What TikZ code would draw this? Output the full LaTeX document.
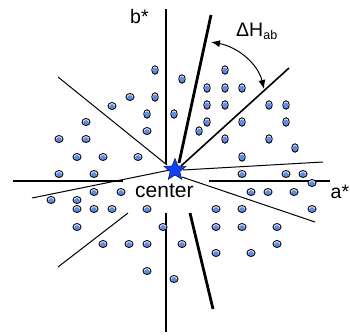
\documentclass[tikz,border=0pt]{standalone}
\usepackage{fontspec}
\setmainfont{Liberation Sans}
\usetikzlibrary{shapes.geometric,arrows.meta}
\definecolor{dotblue}{HTML}{5B8DEF}
\definecolor{starblue}{HTML}{1240F0}
\definecolor{starline}{HTML}{0A1A80}
\tikzset{
 dotw/.style={ellipse, draw=black, line width=0.9pt, fill=white, minimum width=8pt, minimum height=7pt, inner sep=0pt,
   path picture={\fill[dotblue] ([yshift=-0.7pt]path picture bounding box.center) ellipse (2.9pt and 2.6pt);}},
 doth/.style={ellipse, draw=black, line width=0.9pt, fill=white, minimum width=6.5pt, minimum height=8.5pt, inner sep=0pt,
   path picture={\fill[dotblue] ([yshift=-0.7pt]path picture bounding box.center) ellipse (2.4pt and 3.3pt);}},
 thinline/.style={line width=1pt},
 axisline/.style={line width=1.8pt},
 thickline/.style={line width=2.8pt},
 lbl/.style={font=\fontsize{19.5}{20}\selectfont, inner sep=0pt, anchor=base west},
}
\begin{document}
\begin{tikzpicture}[x=1pt,y=-1pt]
\useasboundingbox (0,0) rectangle (350,335);
% axes
\draw[axisline] (166,9) -- (166,164);
\draw[axisline] (166,213) -- (166,332);
\draw[axisline] (13,181) -- (123,181);
\draw[axisline] (209,181) -- (330,181);
% radial lines
\draw[thickline] (179,163) -- (211,15);
\draw[thickline] (190,213) -- (213,309);
\draw[line width=1.6pt] (181,166) -- (289,68);
\draw[thinline] (58,77) -- (167,165);
\draw[thinline] (32,198) -- (170,170);
\draw[thinline] (183,170) -- (323,162);
\draw[thinline] (182,177) -- (315,222);
\draw[thinline] (128,213) -- (58,267);
% angle arrow
\draw[thinline, {Latex[length=9pt,width=7pt]}-{Latex[length=9pt,width=7pt]}] (211,42) .. controls (238,47) and (258,64) .. (264,89);
% dots (tall)
\foreach \x/\y [count=\i] in {155/70,155/97,147/114,174/114,182/79,225/70,207/88,225/88,242/88,207/105,225/105,269/105,286/105,207/122,199/131,242/122,286/122,225/139,269/139,295/148,242/157}
  \node[doth] (h\i) at (\x,\y) {};
% dots (wide)
\foreach \x/\y [count=\i] in {130/97,112/106,86/122,147/131,59/139,86/139,77/157,103/157,138/157,
  59/174,94/174,94/192,121/192,51/200,77/200,77/209,94/209,112/209,147/209,77/227,163/227,103/244,129/244,147/244,147/271,174/279,
  242/174,286/174,303/174,312/183,251/192,268/192,294/192,216/209,242/209,312/209,216/227,242/227,277/227,182/244,277/244,216/253,251/253}
  \node[dotw] (w\i) at (\x,\y) {};
% center star
\node[star, star points=5, star point ratio=2.3, fill=starblue, draw=starline, line width=0.6pt, minimum size=23pt, inner sep=0pt] (c) at (175,170) {};
% labels
\node[lbl] (bl) at (130,23) {b*};
\node[lbl] (al) at (330.5,198) {a*};
\node[lbl, font=\fontsize{21}{22}\selectfont] (cl) at (135,197.5) {center};
\node[lbl] (dh) at (236,36) {ΔH{\fontsize{12.5}{13}\selectfont\raisebox{-3pt}{ab}}};
\end{tikzpicture}
\end{document}
